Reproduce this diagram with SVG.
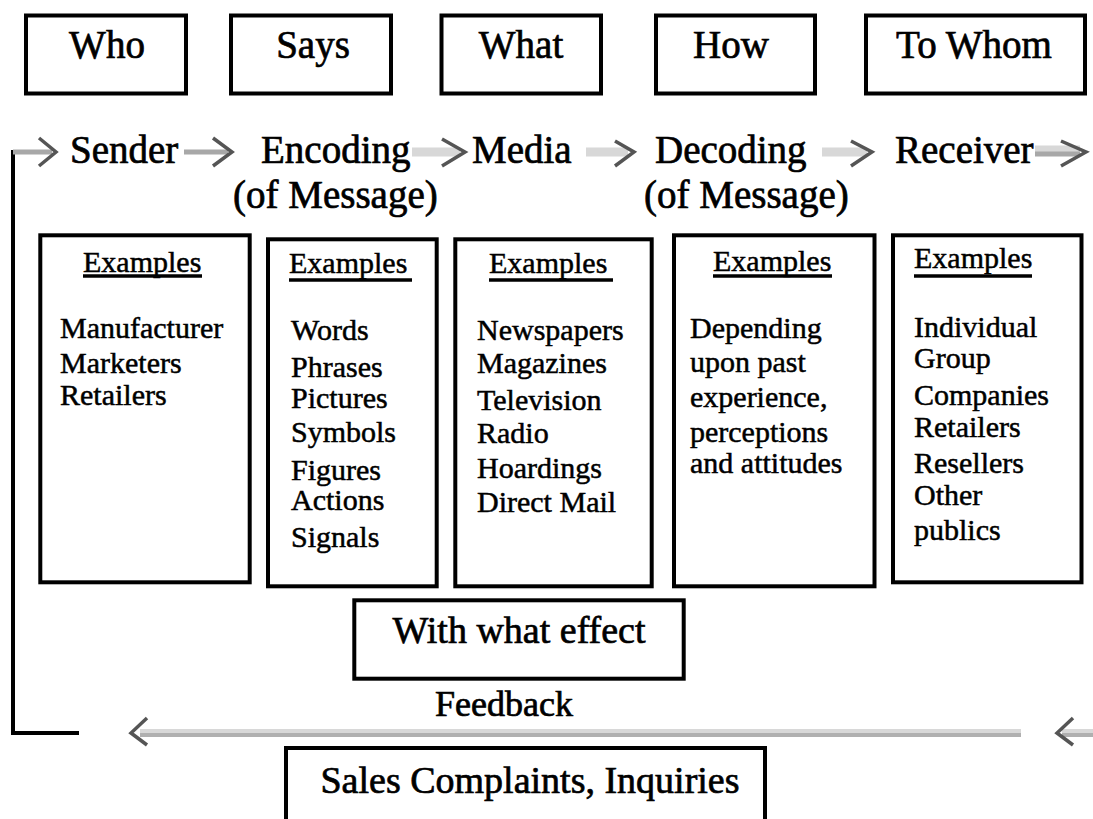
<svg xmlns="http://www.w3.org/2000/svg" width="1093" height="819" viewBox="0 0 1093 819">
<style>
.box{fill:#fff;stroke:#000;stroke-width:4}
.big{font-family:"Liberation Serif","Times New Roman",serif;font-size:39px;fill:#000;stroke:#000;stroke-width:0.7}
.sm{font-family:"Liberation Serif","Times New Roman",serif;font-size:30px;fill:#000;stroke:#000;stroke-width:0.5}
.ul{stroke:#000;stroke-width:3.5}
.ln1{stroke:#a8a8a8;stroke-width:5;fill:none}
.ln2{stroke:#d8d8d8;stroke-width:9;fill:none}
.chev{stroke:#555;stroke-width:3.5;fill:none;stroke-linejoin:miter}
.blk{stroke:#000;stroke-width:4;fill:none}
</style>
<rect width="1093" height="819" fill="#fff"/>

<g id="who"><rect class="box" x="26" y="15.5" width="160" height="78"/><text class="big" x="107" y="58" text-anchor="middle">Who</text></g>
<g id="says"><rect class="box" x="231" y="15.5" width="160" height="78"/><text class="big" x="313" y="58" text-anchor="middle">Says</text></g>
<g id="what"><rect class="box" x="441.5" y="15.5" width="159.5" height="78"/><text class="big" x="521" y="58" text-anchor="middle">What</text></g>
<g id="how"><rect class="box" x="656" y="15.5" width="159" height="78"/><text class="big" x="731" y="58" text-anchor="middle">How</text></g>
<g id="towhom"><rect class="box" x="866" y="15.5" width="219" height="78"/><text class="big" x="974" y="58" text-anchor="middle">To Whom</text></g>

<g id="sender"><text class="big" x="70" y="163">Sender</text></g>
<g id="encoding"><text class="big" x="261" y="163">Encoding</text><text class="big" x="233" y="208">(of Message)</text></g>
<g id="media"><text class="big" x="472" y="163">Media</text></g>
<g id="decoding"><text class="big" x="655" y="163">Decoding</text><text class="big" x="644" y="208">(of Message)</text></g>
<g id="receiver"><text class="big" x="895" y="163">Receiver</text></g>

<g id="ex-sender">
<rect class="box" x="40.3" y="235.3" width="209.4" height="347"/>
<text class="sm" x="83" y="272">Examples</text><line class="ul" x1="83" y1="276" x2="202" y2="276"/>
<text class="sm" x="60" y="338">Manufacturer</text>
<text class="sm" x="60" y="373">Marketers</text>
<text class="sm" x="60" y="405">Retailers</text>
</g>
<g id="ex-encoding">
<rect class="box" x="268" y="239.3" width="168.7" height="347"/>
<text class="sm" x="289" y="273">Examples</text><line class="ul" x1="289" y1="280" x2="412" y2="280"/>
<text class="sm" x="291" y="340">Words</text>
<text class="sm" x="291" y="377">Phrases</text>
<text class="sm" x="291" y="408">Pictures</text>
<text class="sm" x="291" y="442">Symbols</text>
<text class="sm" x="291" y="480">Figures</text>
<text class="sm" x="291" y="510">Actions</text>
<text class="sm" x="291" y="547">Signals</text>
</g>
<g id="ex-media">
<rect class="box" x="455.3" y="239.3" width="196.4" height="347"/>
<text class="sm" x="489" y="273">Examples</text><line class="ul" x1="489" y1="280" x2="613" y2="280"/>
<text class="sm" x="477" y="340">Newspapers</text>
<text class="sm" x="477" y="373">Magazines</text>
<text class="sm" x="477" y="410">Television</text>
<text class="sm" x="477" y="443">Radio</text>
<text class="sm" x="477" y="478">Hoardings</text>
<text class="sm" x="477" y="512">Direct Mail</text>
</g>
<g id="ex-decoding">
<rect class="box" x="674" y="235.3" width="200.5" height="351"/>
<text class="sm" x="713" y="271">Examples</text><line class="ul" x1="713" y1="276" x2="832" y2="276"/>
<text class="sm" x="690" y="338">Depending</text>
<text class="sm" x="690" y="372">upon past</text>
<text class="sm" x="690" y="407">experience,</text>
<text class="sm" x="690" y="442">perceptions</text>
<text class="sm" x="690" y="473">and attitudes</text>
</g>
<g id="ex-receiver">
<rect class="box" x="893" y="235.3" width="188.5" height="347"/>
<text class="sm" x="914" y="268">Examples</text><line class="ul" x1="914" y1="276" x2="1032" y2="276"/>
<text class="sm" x="914" y="337">Individual</text>
<text class="sm" x="914" y="368">Group</text>
<text class="sm" x="914" y="405">Companies</text>
<text class="sm" x="914" y="437">Retailers</text>
<text class="sm" x="914" y="473">Resellers</text>
<text class="sm" x="914" y="505">Other</text>
<text class="sm" x="914" y="540">publics</text>
</g>

<g id="effect"><rect class="box" x="354.3" y="600.3" width="329.4" height="78.4"/><text class="big" x="519" y="643" text-anchor="middle" style="font-size:38px">With what effect</text></g>
<g id="feedback-label"><text class="big" x="504" y="716" text-anchor="middle" style="font-size:36px">Feedback</text></g>
<g id="sales"><rect class="box" x="286" y="748" width="479" height="100"/><text class="big" x="530" y="793" text-anchor="middle" style="font-size:38px">Sales Complaints, Inquiries</text></g>

<g id="connectors">
<polyline class="blk" points="79,733 13,733 13,150"/>
<line class="ln1" x1="13" y1="152" x2="52" y2="152"/>
<path class="chev" d="M39,138 L56,152 L39,166"/>
<line class="ln1" x1="184" y1="152" x2="228" y2="152"/>
<path class="chev" d="M213,138 L232,152 L213,166"/>
<line class="ln2" x1="412" y1="152" x2="460" y2="152"/>
<path class="chev" d="M442,139 L465,152 L442,166"/>
<line class="ln2" x1="586" y1="152" x2="628" y2="152"/>
<path class="chev" d="M615,141 L634,152 L615,166"/>
<line class="ln2" x1="822" y1="152" x2="867" y2="152"/>
<path class="chev" d="M851,141 L872,152 L851,166"/>
<line class="ln2" x1="1035" y1="150" x2="1080" y2="150"/>
<line class="ln1" x1="1035" y1="154" x2="1080" y2="154"/>
<path class="chev" d="M1061,141 L1086,152 L1061,166"/>
<line x1="140" y1="731" x2="1021" y2="731" stroke="#d8d8d8" stroke-width="4"/>
<line x1="140" y1="735" x2="1021" y2="735" stroke="#b0b0b0" stroke-width="4"/>
<path class="chev" d="M147,718 L131,733 L147,745"/>
<line x1="1062" y1="731" x2="1093" y2="731" stroke="#d8d8d8" stroke-width="4"/>
<line x1="1062" y1="735" x2="1093" y2="735" stroke="#b0b0b0" stroke-width="4"/>
<path class="chev" d="M1073,718 L1057,733 L1073,745"/>
</g>
</svg>
